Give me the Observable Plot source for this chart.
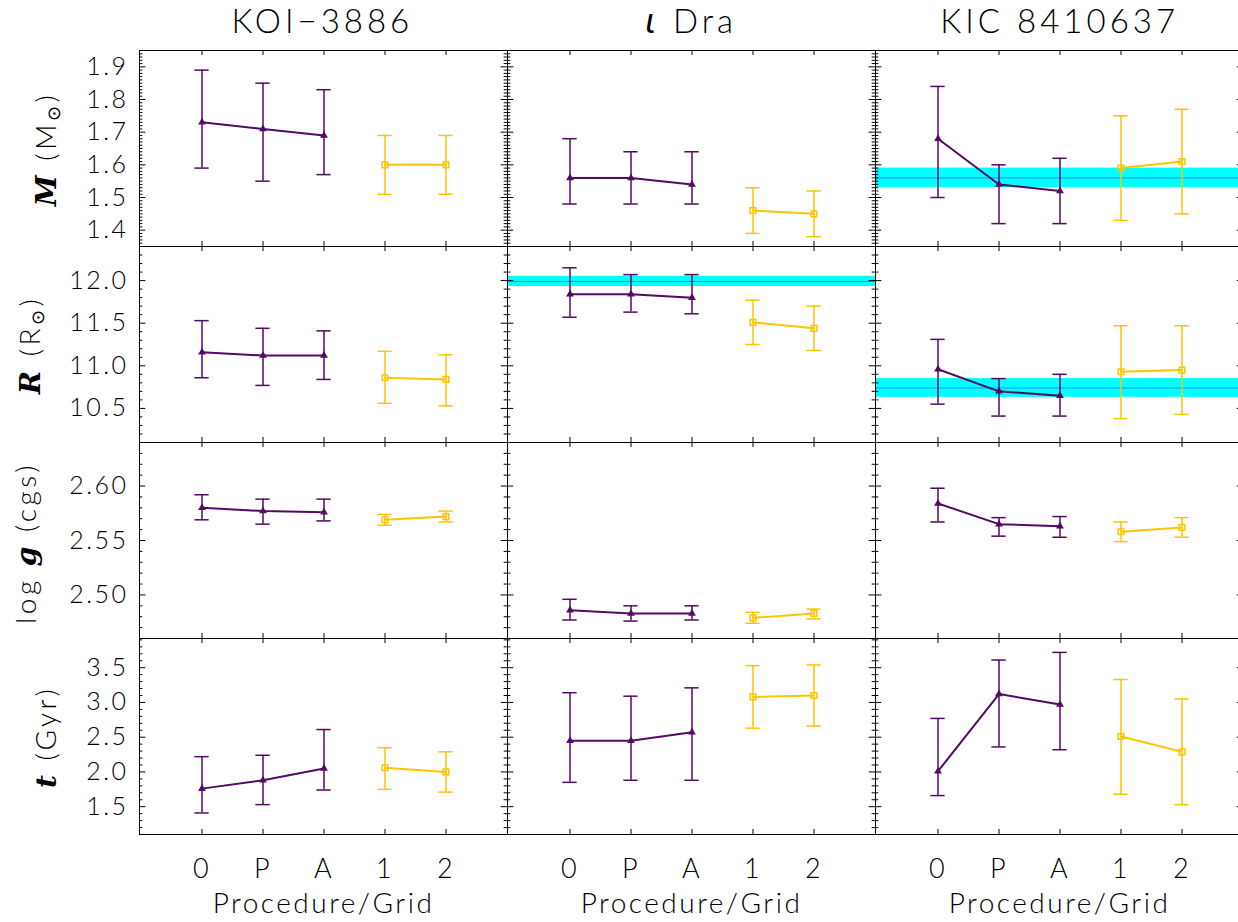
<!DOCTYPE html>
<html><head><meta charset="utf-8">
<script src="https://cdn.jsdelivr.net/npm/d3@7"></script>
<script src="https://cdn.jsdelivr.net/npm/@observablehq/plot@0.6"></script>
<style>
html,body{margin:0;padding:0;background:#fff;overflow:hidden}
#wrap{position:relative;width:1238px;height:922px;overflow:hidden;background:#fff}
#wrap svg.row{position:absolute;left:0}
#overlay{position:absolute;left:0;top:0}
</style></head><body><div id="wrap"></div>
<script>
// ---------- data ----------
const stars = ["KOI−3886", "ι Dra", "KIC 8410637"];
const procs = ["0", "P", "A", "1", "2"];

// Mass (M_sun): rows = stars, columns = procs
const massVal = [[1.73, 1.71, 1.69, 1.60, 1.60], [1.56, 1.56, 1.54, 1.46, 1.45], [1.68, 1.54, 1.52, 1.59, 1.61]];
const massLo  = [[1.59, 1.55, 1.57, 1.51, 1.51], [1.48, 1.48, 1.48, 1.39, 1.38], [1.50, 1.42, 1.42, 1.43, 1.45]];
const massHi  = [[1.89, 1.85, 1.83, 1.69, 1.69], [1.68, 1.64, 1.64, 1.53, 1.52], [1.84, 1.60, 1.62, 1.75, 1.77]];
// Radius (R_sun)
const radVal = [[11.16, 11.12, 11.12, 10.86, 10.84], [11.84, 11.84, 11.80, 11.51, 11.44], [10.96, 10.70, 10.65, 10.93, 10.95]];
const radLo  = [[10.86, 10.77, 10.84, 10.56, 10.53], [11.57, 11.63, 11.61, 11.25, 11.18], [10.55, 10.41, 10.41, 10.38, 10.43]];
const radHi  = [[11.53, 11.44, 11.41, 11.17, 11.13], [12.15, 12.07, 12.07, 11.77, 11.70], [11.31, 10.85, 10.90, 11.47, 11.47]];
// log g (cgs)
const loggVal = [[2.580, 2.577, 2.576, 2.569, 2.572], [2.486, 2.483, 2.483, 2.479, 2.483], [2.584, 2.565, 2.563, 2.558, 2.562]];
const loggLo  = [[2.569, 2.565, 2.568, 2.564, 2.567], [2.477, 2.476, 2.477, 2.474, 2.478], [2.567, 2.554, 2.553, 2.549, 2.553]];
const loggHi  = [[2.592, 2.588, 2.588, 2.574, 2.577], [2.496, 2.490, 2.490, 2.484, 2.487], [2.598, 2.571, 2.572, 2.567, 2.571]];
// Age (Gyr)
const ageVal = [[1.76, 1.88, 2.05, 2.06, 2.00], [2.45, 2.45, 2.57, 3.08, 3.10], [2.01, 3.12, 2.97, 2.51, 2.29]];
const ageLo  = [[1.41, 1.53, 1.74, 1.75, 1.71], [1.85, 1.88, 1.88, 2.63, 2.66], [1.66, 2.36, 2.32, 1.68, 1.53]];
const ageHi  = [[2.22, 2.24, 2.61, 2.35, 2.29], [3.14, 3.09, 3.21, 3.53, 3.54], [2.77, 3.61, 3.72, 3.33, 3.05]];

// Reference (cyan) bands: value and half-width
const massBandStars = ["KIC 8410637"];
const massBandMid = [1.56];
const massBandErr = [0.03];
const radBandStars = ["ι Dra", "KIC 8410637"];
const radBandMid = [11.99, 10.74];
const radBandErr = [0.06, 0.11];

// Tick labels
const massTicks = [1.4, 1.5, 1.6, 1.7, 1.8, 1.9];
const radTicks = [10.5, 11.0, 11.5, 12.0];
const loggTicks = [2.50, 2.55, 2.60];
const ageTicks = [1.5, 2.0, 2.5, 3.0, 3.5];

// ---------- layout ----------
const PURPLE = "#520a62", GOLD = "#ffc400", CYAN = "#00ffff", BLUE = "#1e8fff";
const W = 1244, ML = 138, PW = (W - ML) / 3, PH = 196;
const BW = PW / 6 * 0.5;            // band width of x band scale
const CAP = BW / 2 - 7;             // inset giving 14px error-bar caps
const FONT = "Lato, 'DejaVu Sans', sans-serif";

const rows = [
  {val: massVal, lo: massLo, hi: massHi, domain: [1.35, 1.95], major: massTicks, step: 0.01, fmt: ".1f",
   bStars: massBandStars, bMid: massBandMid, bErr: massBandErr, top: 50},
  {val: radVal, lo: radLo, hi: radHi, domain: [10.1, 12.4], major: radTicks, step: 0.1, fmt: ".1f",
   bStars: radBandStars, bMid: radBandMid, bErr: radBandErr, top: 246},
  {val: loggVal, lo: loggLo, hi: loggHi, domain: [2.46, 2.64], major: loggTicks, step: 0.01, fmt: ".2f",
   bStars: [], bMid: [], bErr: [], top: 442},
  {val: ageVal, lo: ageLo, hi: ageHi, domain: [1.1, 3.92], major: ageTicks, step: 0.1, fmt: ".1f",
   bStars: [], bMid: [], bErr: [], top: 638}
];

function minorTicks(domain, step, major) {
  const out = [];
  for (let k = Math.ceil(domain[0] / step - 1e-6); k * step <= domain[1] + 1e-9; k++) {
    const v = +(k * step).toFixed(6);
    if (!major.some(m => Math.abs(m - v) < step / 2)) out.push(v);
  }
  return out;
}

const wrap = document.getElementById("wrap");

rows.forEach((cfg, r) => {
  const bottom = r === rows.length - 1;
  const data = [];
  stars.forEach((s, j) => procs.forEach((p, i) => data.push({
    star: s, proc: p, grid: i >= 3, v: cfg.val[j][i], lo: cfg.lo[j][i], hi: cfg.hi[j][i]
  })));
  const proc = data.filter(d => !d.grid), grid = data.filter(d => d.grid);
  const bands = cfg.bStars.map((s, k) => ({star: s, mid: cfg.bMid[k], err: cfg.bErr[k]}));
  const minor = minorTicks(cfg.domain, cfg.step, cfg.major);

  const series = (arr, color, symbolOpts) => [
    Plot.ruleX(arr, {fx: "star", x: "proc", y1: "lo", y2: "hi", stroke: color, strokeWidth: 1.5}),
    Plot.tickY(arr, {fx: "star", x: "proc", y: "lo", insetLeft: CAP, insetRight: CAP, stroke: color, strokeWidth: 1.5}),
    Plot.tickY(arr, {fx: "star", x: "proc", y: "hi", insetLeft: CAP, insetRight: CAP, stroke: color, strokeWidth: 1.5}),
    Plot.line(arr, {fx: "star", x: "proc", y: "v", stroke: color, strokeWidth: 2}),
    Plot.dot(arr, {fx: "star", x: "proc", y: "v", ...symbolOpts})
  ];

  const marks = [
    Plot.rect(bands, {fx: "star", y1: d => d.mid - d.err, y2: d => d.mid + d.err, fill: CYAN}),
    Plot.ruleY(bands, {fx: "star", y: "mid", stroke: BLUE, strokeWidth: 1}),
    // inward ticks on all four sides
    Plot.tickY(cfg.major, {y: d => d, insetRight: PW - 7, stroke: "black"}),
    Plot.tickY(cfg.major, {y: d => d, insetLeft: PW - 7, stroke: "black"}),
    Plot.tickY(minor, {y: d => d, insetRight: PW - 4, stroke: "black"}),
    Plot.tickY(minor, {y: d => d, insetLeft: PW - 4, stroke: "black"}),
    Plot.tickX(procs, {x: d => d, insetBottom: PH - 5, stroke: "black"}),
    Plot.tickX(procs, {x: d => d, insetTop: PH - 5, stroke: "black"}),
    ...series(proc, PURPLE, {symbol: "triangle", r: 2.9, fill: PURPLE}),
    ...series(grid, GOLD, {symbol: "square", r: 3.2, stroke: GOLD, strokeWidth: 1.5, fill: "none"}),
    Plot.frame({stroke: "black", strokeWidth: 1}),
    Plot.axisY({ticks: cfg.major, anchor: "left", tickSize: 0, tickPadding: 11, tickFormat: d3.format(cfg.fmt),
                fontSize: 25, label: null})
  ];
  if (bottom) {
    marks.push(Plot.axisX({anchor: "bottom", tickSize: 0, tickPadding: 24, fontSize: 27, label: null}));
    marks.push(Plot.text(stars, {fx: d => d, text: () => "Procedure/Grid", frameAnchor: "bottom", dy: 78, fontSize: 28}));
  }

  const svg = Plot.plot({
    width: W, height: PH + (bottom ? 88 : 0),
    marginLeft: ML, marginRight: 0, marginTop: 0, marginBottom: bottom ? 88 : 0,
    x: {type: "band", domain: procs, paddingInner: 0.5, paddingOuter: 0.75, align: 0.5, ...(bottom ? {} : {axis: null})},
    y: {domain: cfg.domain},
    fx: {domain: stars, padding: 0, axis: null},
    style: `background:transparent;overflow:visible;max-width:none;font-family:${FONT};font-weight:300;letter-spacing:2.5px;color:black`,
    marks
  });
  svg.classList.add("row");
  svg.style.top = cfg.top + "px";
  wrap.appendChild(svg);
});

// ---------- titles and y-axis labels (text) ----------
const ov = d3.select(wrap).append("svg").attr("id", "overlay")
  .attr("width", 1238).attr("height", 922)
  .style("font-family", FONT).style("font-weight", 300).style("letter-spacing", "4px");

stars.forEach((s, j) => {
  const t = ov.append("text").attr("x", ML + PW * (j + 0.5)).attr("y", 33)
    .attr("text-anchor", "middle").attr("font-size", 33);
  if (s.startsWith("ι")) {
    t.append("tspan").attr("font-style", "italic").attr("font-family", "'DejaVu Sans', sans-serif").text("ι");
    t.append("tspan").text(s.slice(1));
  } else t.text(s);
});

const yLabels = [
  {cy: 149, bx: 56, parts: [["M", true], [" (M", false], ["⊙", "sub"], [")", false]]},
  {cy: 345, bx: 40, parts: [["R", true], [" (R", false], ["⊙", "sub"], [")", false]]},
  {cy: 543, bx: 36, parts: [["log ", false], ["g", true], [" (cgs)", false]]},
  {cy: 737, bx: 56, parts: [["t", true], [" (Gyr)", false]]}
];
yLabels.forEach(l => {
  const t = ov.append("text").attr("transform", `translate(${l.bx},${l.cy}) rotate(-90)`)
    .attr("text-anchor", "middle").attr("font-size", 28).style("letter-spacing", "3.5px");
  l.parts.forEach(([txt, kind]) => {
    const sp = t.append("tspan").text(txt);
    if (kind === true) sp.attr("font-family", "'DejaVu Serif', serif").attr("font-style", "italic").attr("font-weight", "bold");
    if (kind === "sub") sp.attr("font-size", 18).attr("baseline-shift", "-20%");
  });
});
</script></body></html>
